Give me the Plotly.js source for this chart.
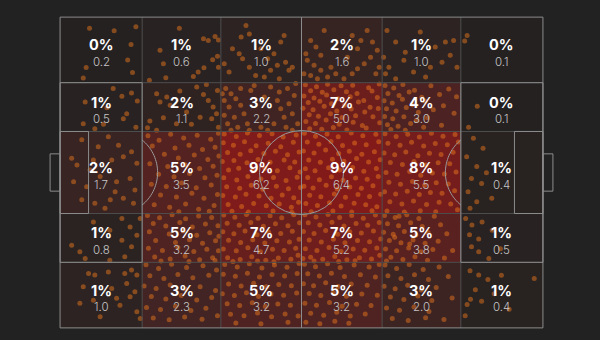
<!DOCTYPE html>
<html>
<head>
<meta charset="utf-8">
<script src="https://cdn.plot.ly/plotly-3.0.1.min.js"></script>
<style>html,body{margin:0;padding:0;background:#222222;}#chart{width:600px;height:340px;}</style>
</head>
<body>
<div id="chart"></div>
<script>
// Zone edges on a 0-100 pitch (x: own goal -> opponent goal, y: bottom -> top)
const colEdges = [0, 17, 33.3, 50, 66.7, 83, 100];
const rowEdges = [0, 21.1, 36.8, 63.2, 78.9, 100];

// Per-90 values per zone, rows listed from top of picture to bottom
const row1Values = [0.2, 0.6, 1.0, 1.6, 1.0, 0.1];
const row2Values = [0.5, 1.1, 2.2, 5.0, 3.0, 0.1];
const row3Values = [1.7, 3.5, 6.2, 6.4, 5.5, 0.4];
const row4Values = [0.8, 3.2, 4.7, 5.2, 3.8, 0.5];
const row5Values = [1.0, 2.3, 3.2, 3.2, 2.0, 0.4];

// Share labels per zone
const row1Pct = ['0%', '1%', '1%', '2%', '1%', '0%'];
const row2Pct = ['1%', '2%', '3%', '7%', '4%', '0%'];
const row3Pct = ['2%', '5%', '9%', '9%', '8%', '1%'];
const row4Pct = ['1%', '5%', '7%', '7%', '5%', '1%'];
const row5Pct = ['1%', '3%', '5%', '5%', '3%', '1%'];

// Individual actions (estimated positions), grouped by zone row, top to bottom
const dotsRow1 = [
 [6.1,96.4],[11.2,95.6],[15.7,96.9],[14.7,91.2],[14.0,86.2],[5.4,83.8],[15.0,82.2],[4.8,80.4],
 [24.7,96.4],[29.7,93.0],[30.7,92.5],[32.1,93.8],[32.8,92.6],[20.7,89.3],[21.4,85.0],[21.9,80.5],[18.5,79.7],[27.6,80.9],[28.6,82.3],[29.8,83.7],[31.6,86.3],[32.6,87.4],[32.8,83.9],
 [38.5,97.3],[35.7,89.8],[37.1,88.2],[37.8,86.6],[39.2,83.9],[40.5,81.2],[42.3,80.7],[43.6,82.9],[45.0,84.5],[46.7,85.5],[47.4,82.9],[48.1,83.9],[37.5,93.6],[39.2,94.6],[45.7,92.0],[46.4,94.1],[44.3,88.2],[35.0,82.3],[34.0,85.0],[45.4,80.2],[41.6,89.8],[43.0,86.6],
 [51.9,92.5],[53.0,90.4],[54.0,87.7],[51.2,86.1],[52.6,84.5],[54.0,82.9],[51.9,81.2],[55.4,80.7],[57.1,81.8],[58.8,80.2],[60.5,81.8],[61.6,83.4],[63.0,85.0],[64.3,87.1],[65.7,89.3],[64.7,92.0],[62.3,92.5],[61.6,89.8],[60.5,94.1],[63.6,95.7],[54.7,95.7],[50.5,81.8],[50.9,88.2],[53.3,80.2],[56.1,83.9],[65.4,81.8],[66.1,83.9],[59.5,87.1],
 [67.7,95.7],[69.5,92.0],[74.6,95.2],[79.8,92.0],[81.5,92.5],[77.7,90.4],[80.8,87.7],[82.2,83.9],[79.1,85.5],[76.7,83.9],[71.2,86.1],[68.1,83.9],[67.4,81.8],[69.5,80.2],[73.2,82.3],[75.7,80.7],[67.0,87.1],[71.5,88.7],
 [84.3,94.1],[83.8,92.3]
];
const dotsRow2 = [
 [11.0,77.0],[12.8,74.5],[14.8,75.6],[16.0,73.0],[5.2,72.7],[9.7,70.8],[13.8,68.9],[4.8,65.7],[9.0,65.5],[13.1,67.3],[15.7,64.6],[7.2,64.1],
 [20.0,75.3],[20.7,72.7],[22.8,71.6],[24.8,76.2],[28.3,77.5],[29.7,75.1],[30.7,73.2],[31.7,71.1],[32.4,68.9],[31.4,67.3],[29.0,67.8],[27.2,65.5],[24.1,65.7],[21.4,67.6],[18.6,66.6],[18.1,64.4],[20.0,63.6],[32.6,76.4],[30.3,78.3],[26.2,69.5],[22.1,74.3],[32.8,64.6],
 [34.3,77.0],[35.4,75.3],[34.0,73.2],[36.4,73.7],[35.0,71.1],[37.4,77.0],[39.5,76.4],[43.6,77.5],[45.4,75.9],[47.1,77.0],[48.5,74.8],[47.4,72.1],[45.7,70.5],[48.1,68.9],[49.2,65.7],[46.8,64.6],[44.3,65.7],[41.6,64.6],[38.8,65.7],[36.8,64.6],[34.7,65.7],[36.1,67.8],[38.1,68.9],[34.0,68.4],[37.4,71.6],[40.2,78.0],[42.3,74.3],[45.0,73.2],[48.8,78.6],[43.0,63.6],[35.4,63.6],[33.6,75.3],[39.2,63.6],[48.1,63.6],[46.4,67.8],
 [50.8,78.2],[53.1,77.6],[55.4,78.4],[58.2,77.9],[60.6,78.1],[63.9,77.3],[66.1,78.5],
 [51.9,76.3],[54.3,75.8],[56.7,76.6],[59.3,76.0],[61.5,75.4],[64.6,76.2],
 [50.5,74.6],[52.6,74.0],[55.2,74.9],[57.6,73.7],[60.1,74.4],[62.9,73.2],[65.7,74.1],
 [51.4,72.5],[53.8,72.9],[56.2,72.1],[58.9,71.6],[61.8,72.7],[64.2,71.0],
 [50.3,70.7],[52.4,70.2],[54.7,71.3],[57.3,69.8],[60.3,70.4],[63.1,69.5],[65.9,70.6],
 [51.6,68.6],[53.5,68.1],[56.0,68.9],[58.4,67.7],[61.2,68.3],[64.8,67.9],
 [50.9,66.4],[52.9,65.8],[55.1,66.9],[57.8,65.5],[60.7,66.2],[62.6,65.1],[66.2,66.0],
 [51.7,64.1],[54.2,63.9],[56.6,64.5],[59.4,63.7],[63.4,64.3],
 [67.3,78.0],[69.1,77.2],[71.0,78.3],[73.4,76.5],[76.8,77.9],[80.5,76.9],
 [67.9,75.4],[70.2,74.8],[72.3,75.9],[74.9,74.2],[78.6,75.1],[82.1,74.4],
 [67.1,73.1],[68.8,72.4],[70.9,73.6],[73.0,71.8],[75.6,72.9],[79.4,71.5],
 [67.6,70.5],[69.6,69.8],[71.7,70.9],[74.2,69.4],[77.3,70.2],[81.6,69.1],
 [67.2,68.0],[68.9,67.3],[71.2,67.9],[73.8,66.8],[76.1,67.6],
 [67.8,65.4],[70.0,64.9],[72.6,65.8],[75.3,64.6],[79.0,65.2],[68.5,63.8],[71.5,63.6],
 [86.4,71.3],[84.6,64.6]
];
const dotsRow3 = [
 [4.5,60.5],[7.9,58.3],[10.0,61.5],[12.1,58.8],[14.8,56.7],[2.4,54.6],[3.5,52.4],[6.9,54.0],[10.7,54.0],[13.1,55.1],[15.9,53.0],[2.8,47.0],[5.5,45.4],[8.3,48.7],[11.7,47.0],[14.5,48.1],[15.5,44.4],[4.5,41.2],[7.2,40.1],[10.4,41.2],[13.1,41.7],[15.2,40.1],[9.3,38.5],[11.4,43.8],[6.2,50.8],
 [18.2,61.8],[20.5,60.4],[22.9,62.3],[25.6,61.1],[28.4,62.0],[31.2,60.7],[32.8,62.6],
 [19.1,58.5],[23.8,57.9],[26.7,58.8],[29.5,57.4],[32.1,58.1],
 [21.6,55.9],[24.5,54.7],[27.8,55.6],[30.6,54.2],[32.9,55.3],
 [18.6,52.8],[22.3,51.9],[25.9,52.5],[28.9,51.3],[31.7,52.0],
 [20.4,49.4],[23.6,48.6],[26.8,49.7],[30.0,48.3],[32.5,49.1],
 [18.9,46.2],[22.0,45.5],[25.2,46.6],[28.2,45.1],[31.3,46.0],
 [20.8,42.8],[24.1,42.1],[27.3,43.3],[29.8,41.7],[32.6,42.9],
 [19.5,39.6],[22.7,38.8],[26.0,39.9],[28.7,38.2],[31.9,39.4],[24.6,37.4],[30.9,37.5],
 [34.0,62.4],[36.5,61.6],[38.8,62.7],[41.3,61.9],[43.9,62.5],[46.2,61.4],[48.9,62.1],
 [33.8,59.6],[35.9,58.8],[38.2,59.9],[40.6,58.6],[43.1,59.4],[45.7,58.3],[48.3,59.7],
 [34.7,56.4],[37.3,55.9],[39.5,57.0],[42.2,56.1],[44.6,56.8],[47.1,55.7],[49.5,56.6],
 [33.6,53.5],[36.0,53.9],[38.7,53.1],[41.0,54.2],[43.5,53.3],[46.4,54.0],[48.6,53.4],
 [34.9,50.8],[37.0,51.4],[39.9,50.5],[42.4,51.3],[45.0,50.6],[47.6,51.5],[49.7,50.2],
 [33.9,48.3],[36.6,47.6],[38.9,48.7],[41.6,47.9],[44.2,48.4],[46.8,47.4],[49.1,48.5],
 [34.5,45.4],[37.2,44.9],[39.6,45.9],[42.0,44.6],[44.8,45.6],[47.3,44.8],[49.8,45.2],
 [33.7,42.6],[36.3,42.1],[38.5,43.0],[41.2,42.4],[43.7,41.7],[46.0,42.8],[48.4,41.9],
 [34.8,39.7],[37.6,39.1],[40.1,40.0],[42.7,39.3],[45.4,39.9],[47.9,38.8],[49.4,40.4],
 [35.6,37.5],[39.0,37.3],[44.1,37.6],[48.0,37.2],
 [50.6,62.6],[52.9,61.7],[55.3,62.4],[57.6,61.5],[60.3,62.7],[62.7,61.8],[65.4,62.3],
 [51.2,59.8],[53.6,59.1],[56.1,60.0],[58.5,58.7],[61.0,59.5],[63.4,58.9],[66.0,59.9],
 [50.4,56.9],[52.6,56.3],[55.0,57.2],[57.7,56.1],[59.9,56.8],[62.5,55.9],[65.1,56.7],
 [51.5,54.0],[53.9,53.3],[56.4,54.3],[58.8,53.6],[61.4,54.5],[63.9,53.4],[66.3,54.1],
 [50.8,51.2],[52.8,50.6],[55.6,51.5],[57.9,50.8],[60.6,51.6],[62.9,50.4],[65.5,51.3],
 [51.3,48.4],[53.7,47.7],[56.2,48.6],[58.6,47.5],[61.2,48.2],[63.6,47.8],[65.9,48.7],
 [50.5,45.6],[52.4,45.0],[55.1,45.9],[57.4,44.7],[60.0,45.3],[62.4,44.9],[64.8,45.7],
 [51.7,42.7],[54.0,42.2],[56.8,43.1],[59.1,42.0],[61.7,42.9],[64.1,42.3],[66.4,43.0],
 [50.9,40.0],[53.3,39.4],[55.8,40.3],[58.2,39.2],[60.9,40.1],[63.3,39.6],[65.6,39.0],
 [52.0,37.4],[56.5,37.6],[60.4,37.3],[64.6,37.7],
 [67.3,62.5],[69.6,61.6],[72.0,62.3],[74.4,61.4],[76.9,62.6],[79.3,61.7],[81.8,62.2],
 [67.9,59.4],[70.4,58.8],[72.8,59.7],[75.3,58.5],[77.7,59.3],[80.2,58.9],[82.5,59.8],
 [67.1,56.3],[69.3,55.7],[71.6,56.6],[74.1,55.4],[76.5,56.2],[78.9,55.8],[81.4,56.5],
 [68.4,53.2],[70.9,52.6],[73.3,53.5],[75.8,52.4],[78.3,53.1],[80.7,52.8],
 [67.5,50.0],[69.8,49.4],[72.4,50.3],[74.7,49.1],[77.1,49.8],[79.6,49.5],[82.0,50.2],
 [68.1,46.9],[70.5,46.2],[73.0,47.1],[75.5,45.9],[77.9,46.7],[80.4,46.3],
 [67.2,43.8],[69.5,43.1],[71.9,44.0],[74.4,42.9],[76.7,43.6],[79.1,43.3],[81.7,44.1],
 [68.3,40.6],[70.8,39.9],[73.2,40.8],[75.9,39.7],[78.5,40.4],[80.9,39.9],
 [67.7,37.6],[71.3,37.3],[74.6,37.7],[77.8,37.4],[82.3,38.0],
 [85.6,61.0],[87.6,57.8],[84.2,55.1],[86.3,51.9],[88.3,49.9],[85.2,48.1],[87.3,46.5],[84.5,43.8],[86.3,40.6],[89.4,41.7],[84.9,38.5]
];
const dotsRow4 = [
 [12.8,35.2],[14.5,32.5],[10.3,31.4],[15.9,29.8],[2.4,26.6],[4.1,24.5],[12.8,28.2],[14.8,26.1],[13.4,22.9],[5.2,22.3],[10.3,21.8],[16.6,35.2],[6.9,34.1],
 [18.1,36.2],[20.6,35.4],[23.2,36.4],[26.0,35.1],[28.7,36.0],[31.4,35.5],
 [19.3,33.6],[21.9,32.8],[24.8,33.9],[27.4,32.5],[30.1,33.4],[32.7,32.9],
 [18.5,30.9],[22.6,30.2],[25.5,31.2],[28.3,29.8],[31.0,30.6],[32.9,29.5],
 [19.8,28.1],[23.9,27.5],[26.8,28.4],[29.5,27.2],[32.2,28.0],
 [18.3,25.6],[21.2,24.9],[24.4,25.9],[27.7,24.6],[30.4,25.3],[32.8,24.8],
 [19.6,22.8],[22.8,22.2],[25.9,23.1],[28.9,21.9],[31.6,22.6],[20.9,21.5],[26.7,21.4],[32.1,21.7],
 [33.9,36.3],[36.2,35.6],[38.6,36.5],[41.0,35.3],[43.5,36.1],[45.9,35.4],[48.4,36.4],
 [34.6,33.7],[37.1,33.0],[39.5,33.9],[42.1,32.7],[44.6,33.5],[47.2,32.9],[49.6,33.8],
 [33.7,30.9],[36.0,30.3],[38.3,31.2],[40.8,30.0],[43.2,30.8],[45.7,30.4],[48.1,31.1],
 [34.9,28.2],[37.4,27.5],[39.9,28.4],[42.4,27.3],[44.9,28.0],[47.5,27.6],[49.5,28.5],
 [33.8,25.4],[36.5,24.8],[38.9,25.8],[41.5,24.5],[44.0,25.3],[46.4,24.9],[48.8,25.6],
 [34.7,22.6],[37.3,22.0],[39.7,22.9],[42.6,21.8],[45.2,22.5],[47.8,22.1],[49.3,23.4],
 [35.8,21.4],[40.9,21.5],[44.3,21.3],
 [50.7,36.4],[53.0,35.7],[55.5,36.5],[57.9,35.5],[60.4,36.2],[62.8,35.3],[65.3,36.3],
 [51.4,33.8],[53.8,33.1],[56.3,34.0],[58.8,32.8],[61.3,33.6],[63.7,33.0],[66.1,33.9],
 [50.4,31.0],[52.6,30.4],[55.0,31.3],[57.5,30.1],[60.0,30.9],[62.4,30.5],[64.9,31.2],
 [51.6,28.3],[54.1,27.6],[56.6,28.5],[59.0,27.4],[61.6,28.1],[64.1,27.7],[66.4,28.6],
 [50.8,25.5],[53.2,24.9],[55.7,25.9],[58.2,24.6],[60.7,25.4],[63.1,25.0],[65.6,25.7],
 [51.9,22.7],[54.4,22.1],[56.9,23.0],[59.4,21.9],[62.0,22.6],[64.5,22.2],[66.2,23.4],
 [52.6,21.5],[57.7,21.4],[61.1,21.6],[50.3,22.3],
 [67.2,36.2],[69.4,35.5],[71.8,36.4],[74.3,35.2],[77.5,35.9],
 [67.8,33.5],[70.1,32.9],[72.6,33.8],[75.0,32.6],[78.8,33.2],
 [67.0,30.8],[69.0,30.1],[71.3,31.0],[73.7,29.9],[76.2,30.7],[80.1,30.3],
 [68.2,28.1],[70.6,27.4],[73.1,28.3],[75.6,27.2],[78.3,27.9],
 [67.4,25.4],[69.7,24.8],[72.2,25.7],[74.8,24.5],[77.2,25.2],[81.3,24.9],
 [68.5,22.7],[71.0,22.0],[73.5,22.9],[76.1,21.8],[79.6,22.5],
 [67.6,21.5],[70.2,35.9],[69.3,29.2],[72.4,27.0],
 [85.3,33.1],[84.8,30.0],[86.7,28.6],[85.2,26.1],[86.7,24.5],[87.4,34.1],[89.5,31.4],[88.8,22.3],[84.0,35.2],[91.2,25.5]
];
const dotsRow5 = [
 [5.9,17.5],[7.2,17.0],[10.0,18.0],[13.4,17.5],[14.8,18.6],[15.9,17.0],[4.1,7.9],[6.9,8.9],[11.7,9.5],[14.5,10.0],[12.4,7.3],[15.9,5.2],[16.6,3.0],[8.3,3.6],[13.8,14.3],[4.8,13.2],[10.7,12.7],[15.5,11.6],
 [17.8,20.3],[20.4,19.1],[23.1,20.5],[26.2,19.4],[29.6,20.0],[32.4,18.6],
 [18.6,16.8],[21.5,15.9],[24.4,17.2],[27.5,16.1],[30.8,16.9],
 [17.4,13.5],[19.9,12.7],[22.8,13.8],[26.0,12.4],[29.0,13.2],[32.2,12.0],
 [18.9,10.1],[21.9,9.3],[25.1,10.4],[28.3,9.0],[31.4,9.8],
 [17.9,6.6],[20.8,5.9],[23.9,7.0],[27.1,5.6],[30.2,6.3],
 [19.3,3.2],[22.6,2.6],[25.8,3.5],[29.4,2.8],[32.6,3.9],
 [34.1,20.4],[36.7,19.6],[39.2,20.6],[41.8,19.3],[44.4,20.2],[47.0,19.5],[49.5,20.7],
 [33.8,17.3],[36.3,16.6],[38.8,17.6],[41.3,16.4],[43.9,17.2],[46.5,16.7],[49.1,17.5],
 [34.9,14.1],[37.5,13.5],[40.1,14.4],[42.7,13.2],[45.3,14.0],[47.9,13.6],
 [33.6,11.0],[36.1,10.4],[38.6,11.3],[41.1,10.1],[43.7,10.9],[46.3,10.5],[49.0,11.2],
 [34.6,7.8],[37.2,7.2],[39.8,8.1],[42.5,6.9],[45.1,7.7],[47.7,7.3],
 [35.3,4.4],[38.1,3.9],[40.9,4.8],[43.8,3.6],[46.6,4.5],[49.3,3.8],
 [36.4,1.6],[41.6,1.3],[47.2,1.8],
 [50.6,20.5],[52.9,19.7],[55.4,20.6],[58.0,19.4],[60.9,20.2],[64.0,19.6],[66.1,20.4],
 [51.3,17.4],[53.7,16.7],[56.2,17.6],[58.9,16.5],[62.2,17.1],[65.3,16.4],
 [50.4,14.2],[52.5,13.6],[55.0,14.5],[57.6,13.3],[60.3,14.1],[63.6,13.7],
 [51.6,11.1],[54.0,10.4],[56.6,11.3],[59.3,10.2],[62.5,10.9],[65.7,10.5],
 [50.7,7.9],[53.1,7.3],[55.8,8.2],[58.4,7.0],[61.4,7.6],[64.4,7.2],
 [51.9,4.7],[54.6,4.1],[57.3,5.0],[60.1,3.8],[63.2,4.5],
 [50.9,1.8],[53.8,1.3],[56.9,2.1],[59.8,1.5],
 [67.3,20.2],[69.7,19.1],[72.3,20.4],[75.2,18.8],[78.5,19.6],
 [67.9,16.8],[70.6,15.9],[73.4,17.1],[76.3,15.6],[80.4,16.5],
 [67.1,13.4],[69.4,12.6],[72.0,13.7],[74.8,12.2],[77.9,13.0],
 [68.4,9.9],[71.2,9.1],[74.1,10.3],[77.0,8.8],[81.2,9.6],
 [67.6,6.4],[70.3,5.7],[73.3,6.7],[76.4,5.3],
 [68.8,3.0],[72.1,2.4],[75.7,3.3],[79.5,2.7],
 [84.9,18.4],[86.7,17.0],[88.6,15.6],[86.0,12.3],[85.0,9.2],[87.3,8.6],[84.3,7.5],[91.4,16.9],[98.2,15.9],[89.9,11.0],[83.9,3.9],[93.0,6.0]
];

// ---- build ----
const valueRowsTop = [row1Values, row2Values, row3Values, row4Values, row5Values];
const pctRowsTop = [row1Pct, row2Pct, row3Pct, row4Pct, row5Pct];
const zBottomUp = valueRowsTop.slice().reverse();
const allDots = [].concat(dotsRow1, dotsRow2, dotsRow3, dotsRow4, dotsRow5);

const heat = {
  type: 'heatmap',
  x: colEdges, y: rowEdges, z: zBottomUp,
  zmin: 0, zmax: 6.4,
  colorscale: [
    [0, '#242121'], [0.156, '#2d2322'], [0.344, '#3f2423'],
    [0.5, '#4f2322'], [0.734, '#671f1e'], [1, '#821a1a']
  ],
  showscale: false, hoverinfo: 'skip'
};
const dots = {
  type: 'scatter', mode: 'markers',
  x: allDots.map(d => d[0]), y: allDots.map(d => d[1]),
  marker: {size: 5, color: 'rgba(236,122,30,0.48)', line: {width: 0}},
  hoverinfo: 'skip'
};

const GRID = '#4e4e4e', LINE = '#8c8c8c';
const shapes = [];
colEdges.slice(1, -1).forEach(x => shapes.push({type:'line', x0:x, x1:x, y0:0, y1:100, line:{color:GRID, width:1}}));
rowEdges.slice(1, -1).forEach(y => shapes.push({type:'line', x0:0, x1:100, y0:y, y1:y, line:{color:GRID, width:1}}));
function rect(x0,x1,y0,y1){ shapes.push({type:'rect', x0, x1, y0, y1, line:{color:LINE, width:1}}); }
rect(0,100,0,100);
shapes.push({type:'line', x0:50, x1:50, y0:0, y1:100, line:{color:LINE, width:1}});
shapes.push({type:'circle', x0:50-8.7, x1:50+8.7, y0:50-13.5, y1:50+13.5, line:{color:'#9a9a9a', width:1}});
rect(0,17,21.1,78.9); rect(83,100,21.1,78.9);
rect(0,5.9,36.8,63.2); rect(94.1,100,36.8,63.2);
rect(-2.07,0,44,56); rect(100,102.07,44,56);
// penalty arcs (outside the box)
function arc(cx, dir){
  const rx = 8.7, ry = 13.5, pts = [];
  for (let a = -90; a <= 90; a += 3){
    const t = a*Math.PI/180;
    const x = cx + dir*rx*Math.cos(t), y = 50 + ry*Math.sin(t);
    if ((dir > 0 && x >= 17) || (dir < 0 && x <= 83)) pts.push([x,y]);
  }
  const edge = dir > 0 ? 17 : 83;
  const dy = ry*Math.sqrt(1 - Math.pow((edge-cx)/rx, 2));
  pts.unshift([edge, 50-dy]); pts.push([edge, 50+dy]);
  return 'M' + pts.map(p => p[0].toFixed(2)+','+p[1].toFixed(2)).join(' L');
}
shapes.push({type:'path', path:arc(11.5, 1), line:{color:'#9a9a9a', width:1}});
shapes.push({type:'path', path:arc(88.5, -1), line:{color:'#9a9a9a', width:1}});

const annotations = [];
for (let r = 0; r < 5; r++){
  const yTop = rowEdges[5-r], yBot = rowEdges[4-r], cy = (yTop+yBot)/2;
  for (let c = 0; c < 6; c++){
    const cx = (colEdges[c]+colEdges[c+1])/2;
    annotations.push({x:cx, y:cy, text:pctRowsTop[r][c], showarrow:false, yshift:5, xanchor:'center', yanchor:'middle',
      font:{family:'Inter, Roboto, sans-serif', size:14.5, color:'#ffffff', weight:700}});
    annotations.push({x:cx, y:cy, text:valueRowsTop[r][c].toFixed(1), showarrow:false, yshift:-12, xanchor:'center', yanchor:'middle',
      font:{family:'Inter, Roboto, sans-serif', size:11.5, color:'#c6c6c6', weight:300}});
  }
}

const layout = {
  width: 600, height: 340,
  margin: {l:48, r:45, t:14, b:9, pad:0},
  paper_bgcolor: '#222222', plot_bgcolor: '#222222',
  xaxis: {range:[-2.5, 102.5], visible:false, fixedrange:true},
  yaxis: {range:[-1, 101], visible:false, fixedrange:true},
  shapes, annotations, showlegend:false
};
Plotly.newPlot('chart', [heat, dots], layout, {staticPlot:true, displayModeBar:false});
</script>
</body>
</html>
